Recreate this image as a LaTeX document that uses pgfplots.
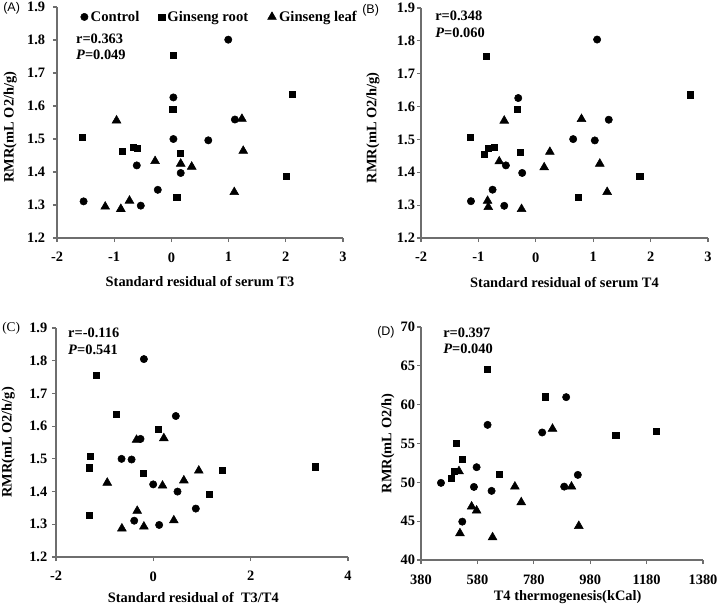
\documentclass[border=0pt]{standalone}
\usepackage{fontspec}
\setmainfont{Liberation Serif}
\newfontfamily\arial{Liberation Sans}
\usepackage{pgfplots}
\pgfplotsset{compat=1.18}
\definecolor{axgray}{RGB}{110,110,110}
\newcommand{\fs}{\fontsize{10.8}{12}\selectfont\bfseries}
\newcommand{\fl}{\fontsize{11}{13}\selectfont\bfseries}
\pgfplotsset{
  myax/.style={
    scale only axis,
    axis lines*=left,
    axis line style={axgray, line width=1pt},
    tick style={axgray, line width=0.8pt},
    tick align=outside,
    major tick length=3pt,
    scaled ticks=false,
    /pgf/number format/assume math mode=true,
    /pgf/number format/1000 sep={},
    xticklabel={\pgfmathprintnumber[assume math mode=true]{\tick}},
    yticklabel={\pgfmathprintnumber[assume math mode=true]{\tick}},
    tick label style={font=\fs},
    xticklabel style={yshift=-4.3pt},
    label style={font=\fs},
    clip=false,
  },
  ctl/.style={only marks, mark=*, mark size=2.75pt, mark options={fill=black, draw=black}},
  root/.style={only marks, mark=square*, mark size=2.3pt, mark options={fill=black, draw=black}},
  leaf/.style={only marks, mark=triangle*, mark size=3.8pt, mark options={fill=black, draw=black}},
}
\begin{document}
\begin{tikzpicture}
\useasboundingbox (0pt,0pt) rectangle (540pt,-454.5pt);
% ---------- (A)
\begin{axis}[myax, at={(42.75pt,-178.5pt)}, anchor=south west,
  width=214.5pt, height=173.25pt,
  xmin=-2, xmax=3, ymin=1.2, ymax=1.9,
  xtick={-2,-1,0,1,2,3}, ytick={1.2,1.3,1.4,1.5,1.6,1.7,1.8,1.9},
  yticklabel style={xshift=-2.4pt, /pgf/number format/.cd, fixed, fixed zerofill, precision=1},
  xlabel={Standard residual of serum T3},
  ylabel={RMR(mL O2/h/g)},
  xlabel style={at={(axis description cs:0.5,-0.19)}, anchor=center},
  ylabel style={at={(axis description cs:-0.164,0.48)}, anchor=center},
  legend columns=3,
  legend style={draw=none, fill=none, at={(axis description cs:0.068,0.957)}, anchor=west, font=\fl,
    /tikz/every even column/.append style={column sep=12.5pt}},
  legend image code/.code={\draw[#1] plot coordinates {(3pt,0pt)};},
]
\addplot[ctl] coordinates {(-1.535,1.311)(0.994,1.801)(0.035,1.626)(0.035,1.500)(0.645,1.496)(1.11,1.559)(-0.605,1.420)(0.163,1.397)(-0.238,1.346)(-0.535,1.298)};
\addplot[root] coordinates {(-1.564,1.506)(0.035,1.754)(0.023,1.590)(2.116,1.635)(-0.866,1.463)(-0.663,1.475)(-0.593,1.472)(0.151,1.456)(0.093,1.324)(2.012,1.388)};
\addplot[leaf] coordinates {(-0.959,1.556)(-1.157,1.295)(-0.884,1.288)(-0.733,1.313)(-0.285,1.433)(0.163,1.425)(0.355,1.416)(1.233,1.561)(1.256,1.464)(1.099,1.339)};
\legend{Control, Ginseng root, Ginseng leaf}
\node[font=\fs, anchor=west, inner sep=0pt] at (axis description cs:0.066,0.862) {r=0.363};
\node[font=\fs, anchor=west, inner sep=0pt] at (axis description cs:0.066,0.792) {\textit{P}=0.049};
\end{axis}
% ---------- (B)
\begin{axis}[myax, at={(315.75pt,-178.5pt)}, anchor=south west,
  width=215.25pt, height=172.5pt,
  xmin=-2, xmax=3, ymin=1.2, ymax=1.9,
  xtick={-2,-1,0,1,2,3}, ytick={1.2,1.3,1.4,1.5,1.6,1.7,1.8,1.9},
  yticklabel style={xshift=2pt, /pgf/number format/.cd, fixed, fixed zerofill, precision=1},
  xlabel={Standard residual of serum T4},
  ylabel={RMR(mL O2/h/g)},
  xlabel style={at={(axis description cs:0.5,-0.195)}, anchor=center},
  ylabel style={at={(axis description cs:-0.167,0.48)}, anchor=center},
]
\addplot[ctl] coordinates {(1.068,1.804)(-0.306,1.626)(1.271,1.560)(0.651,1.501)(1.028,1.497)(-0.521,1.421)(-0.237,1.398)(-0.753,1.347)(-1.130,1.312)(-0.550,1.298)};
\addplot[root] coordinates {(-0.869,1.753)(-0.324,1.591)(2.698,1.636)(-1.147,1.506)(-0.904,1.454)(-0.828,1.472)(-0.730,1.475)(-0.266,1.462)(0.738,1.325)(1.811,1.389)};
\addplot[leaf] coordinates {(-0.550,1.557)(0.796,1.562)(0.245,1.462)(-0.637,1.433)(0.146,1.415)(1.115,1.426)(1.243,1.340)(-0.840,1.313)(-0.828,1.294)(-0.248,1.288)};
\node[font=\fs, anchor=west, inner sep=0pt] at (axis description cs:0.049,0.965) {r=0.348};
\node[font=\fs, anchor=west, inner sep=0pt] at (axis description cs:0.049,0.893) {\textit{P}=0.060};
\end{axis}
% ---------- (C)
\begin{axis}[myax, at={(42pt,-417.75pt)}, anchor=south west,
  width=219pt, height=171.75pt,
  xmin=-2, xmax=4, ymin=1.2, ymax=1.9,
  xtick={-2,0,2,4}, ytick={1.2,1.3,1.4,1.5,1.6,1.7,1.8,1.9},
  yticklabel style={/pgf/number format/.cd, fixed, fixed zerofill, precision=1},
  xlabel={Standard residual of~ T3/T4},
  ylabel={RMR(mL O2/h/g)},
  xlabel style={at={(axis description cs:0.47,-0.175)}, anchor=center},
  ylabel style={at={(axis description cs:-0.164,0.5)}, anchor=center},
]
\addplot[ctl] coordinates {(-0.194,1.805)(0.462,1.631)(-0.263,1.561)(-0.653,1.500)(-0.447,1.498)(-0.003,1.422)(0.497,1.400)(0.873,1.348)(-0.393,1.311)(0.120,1.298)};
\addplot[root] coordinates {(-1.179,1.756)(-0.769,1.637)(0.100,1.591)(-1.302,1.507)(-1.323,1.473)(-0.208,1.455)(1.420,1.464)(3.335,1.476)(1.146,1.391)(-1.323,1.327)};
\addplot[leaf] coordinates {(-0.345,1.558)(0.216,1.563)(-0.947,1.427)(0.189,1.418)(0.627,1.434)(0.934,1.464)(-0.331,1.341)(-0.646,1.287)(-0.194,1.293)(0.421,1.312)};
\node[font=\fs, anchor=west, inner sep=0pt] at (axis description cs:0.041,0.978) {r=-0.116};
\node[font=\fs, anchor=west, inner sep=0pt] at (axis description cs:0.041,0.904) {\textit{P}=0.541};
\end{axis}
% ---------- (D)
\begin{axis}[myax, at={(315.75pt,-420pt)}, anchor=south west,
  width=211.5pt, height=174.75pt,
  xmin=380, xmax=1380, ymin=40, ymax=70,
  xtick={380,580,780,980,1180,1380}, ytick={40,45,50,55,60,65,70},
  yticklabel style={xshift=2pt},
  xlabel={T4 thermogenesis(kCal)},
  ylabel={RMR(mL O2/h)},
  xlabel style={at={(axis description cs:0.52,-0.159)}, anchor=center},
  ylabel style={at={(axis description cs:-0.117,0.5)}, anchor=center},
]
\addplot[ctl] coordinates {(450.8,49.93)(526.4,44.94)(567.7,49.41)(577.2,51.95)(616.1,57.40)(630.3,48.90)(809.7,56.42)(894.8,60.97)(887.7,49.45)(936.1,50.96)};
\addplot[root] coordinates {(616.1,64.58)(819.1,61.01)(504.0,55.04)(525.2,52.98)(496.9,51.47)(487.4,50.53)(657.5,51.04)(1070.7,56.03)(1214.7,56.55)};
\addplot[leaf] coordinates {(514.6,51.43)(846.3,56.89)(712.9,49.45)(735.4,47.43)(913.6,49.45)(559.5,46.88)(577.2,46.36)(518.1,43.44)(633.8,42.92)(939.6,44.38)};
\node[font=\fs, anchor=west, inner sep=0pt] at (axis description cs:0.078,0.974) {r=0.397};
\node[font=\fs, anchor=west, inner sep=0pt] at (axis description cs:0.078,0.906) {\textit{P}=0.040};
\end{axis}
% panel letters
\node[font=\arial\fontsize{9.4}{11}\selectfont, anchor=west, inner sep=0pt] at (2.25pt,-6pt) {(A)};
\node[font=\arial\fontsize{9.4}{11}\selectfont, anchor=west, inner sep=0pt] at (271.5pt,-7.5pt) {(B)};
\node[font=\fontsize{10}{11}\selectfont, anchor=west, inner sep=0pt] at (1.5pt,-246pt) {(C)};
\node[font=\arial\fontsize{9.4}{11}\selectfont, anchor=west, inner sep=0pt] at (282.75pt,-249pt) {(D)};
\end{tikzpicture}
\end{document}
